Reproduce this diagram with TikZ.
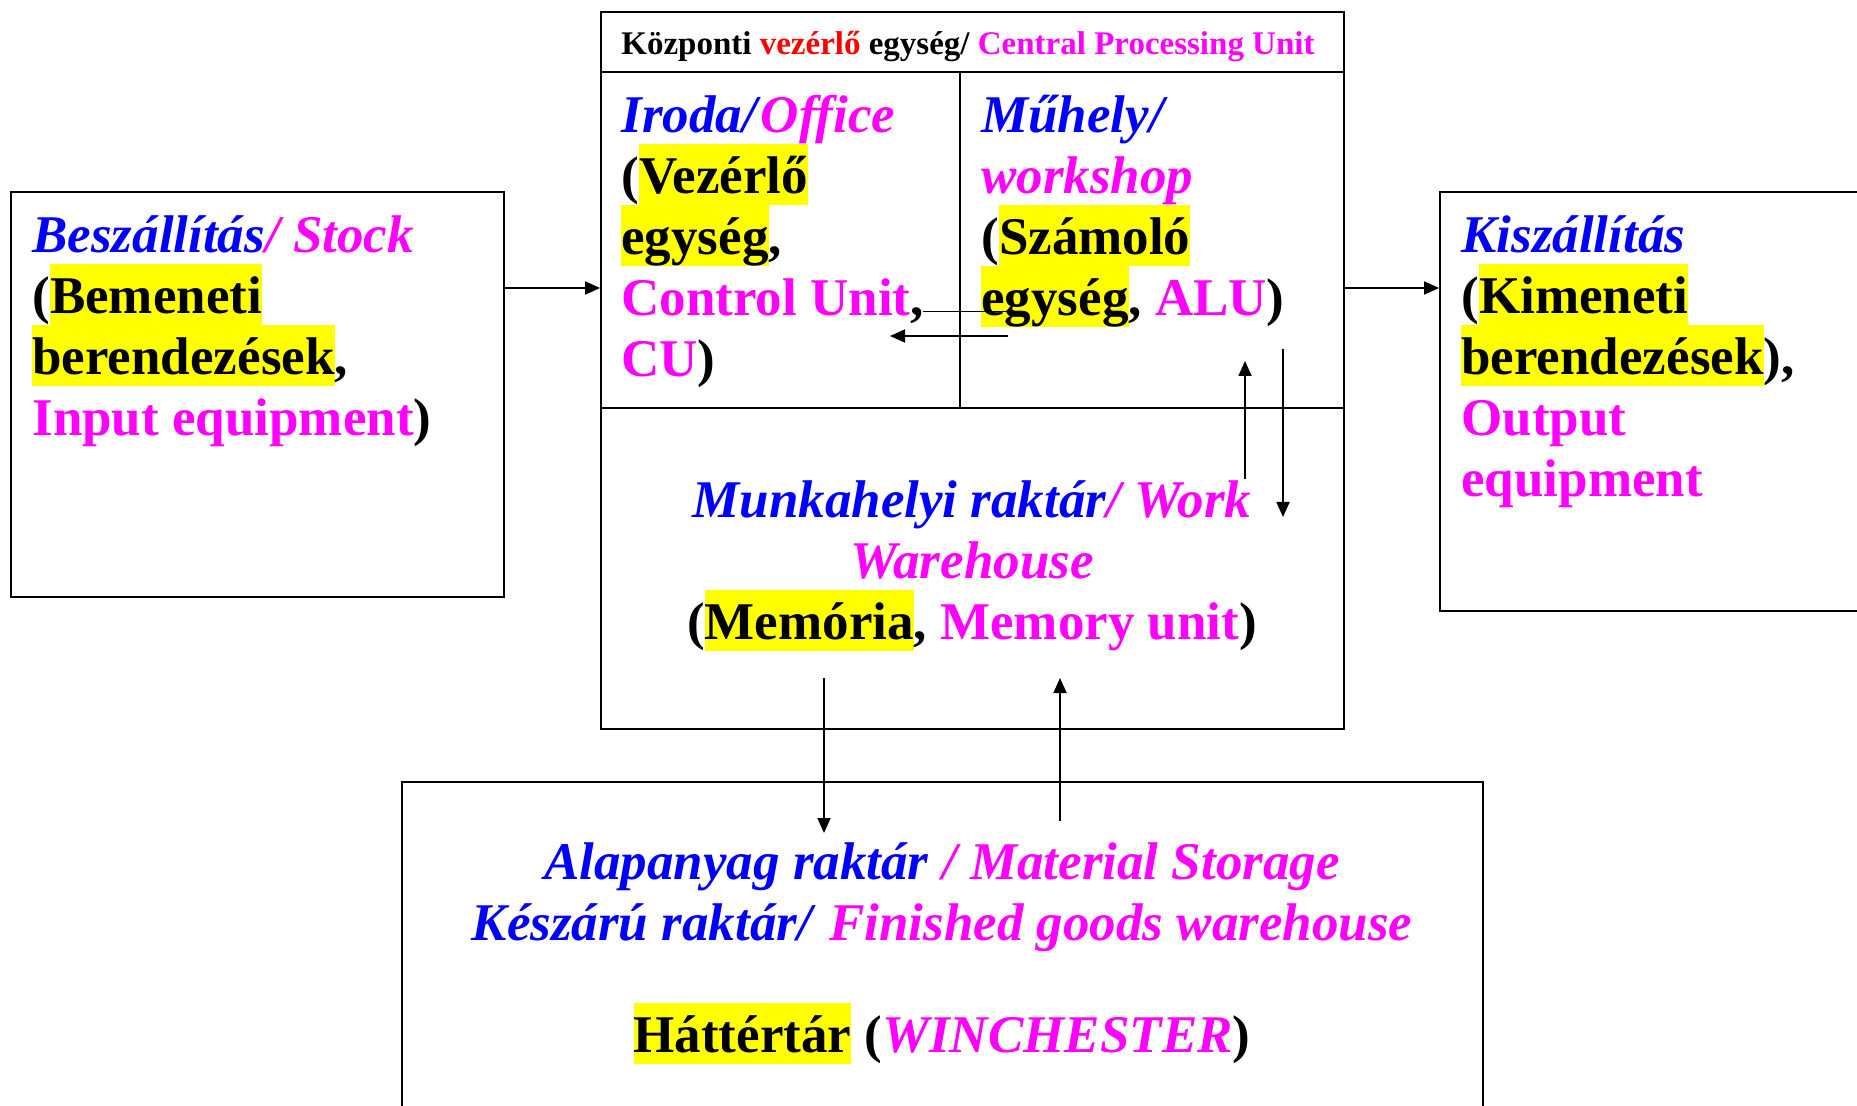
\documentclass[tikz,border=0pt]{standalone}
\usepackage{fontspec}
\setmainfont{Liberation Serif}
\usetikzlibrary{arrows.meta,fit}
\definecolor{hublue}{RGB}{0,0,255}
\definecolor{enmag}{RGB}{255,0,255}
\definecolor{hlyellow}{RGB}{255,255,0}
\definecolor{ctred}{RGB}{255,0,0}
\newcommand{\hstrut}{\rule[-6pt]{0pt}{30.5pt}}
\newcommand{\hl}[1]{{\setlength{\fboxsep}{0pt}\colorbox{hlyellow}{\hstrut#1}}}
\newcommand{\hun}[1]{\textcolor{hublue}{\textit{#1}}}
\newcommand{\engi}[1]{\textcolor{enmag}{\textit{#1}}}
\newcommand{\eng}[1]{\textcolor{enmag}{#1}}
\tikzset{
  box/.style={draw, line width=0.9pt, inner sep=0pt},
  sep/.style={line width=0.9pt},
  arr/.style={line width=0.9pt, -{Triangle[length=7.5pt,width=6.5pt]}},
  txt/.style={inner sep=0pt, font=\fontsize{26.5pt}{30.5pt}\selectfont\bfseries},
  ttl/.style={inner sep=0pt, font=\fontsize{16.5pt}{20pt}\selectfont\bfseries},
}
\begin{document}
\begin{tikzpicture}[x=0.5pt,y=-0.5pt]
        \useasboundingbox (0,0) rectangle (1857,1106);
        \clip (0,0) rectangle (1857,1106);

        % boxes
        \node[box, fit={(11,192) (504,597)}] (stock) {};
        \node[box, fit={(601,12) (1344,729)}] (cpu) {};
        \node[box, fit={(1440,192) (1890,611)}] (output) {};
        \node[box, fit={(402,782) (1483,1140)}] (storage) {};

        % cpu partitions
        \coordinate (titlesep) at (0,72);
        \coordinate (midsep) at (0,408);
        \coordinate (divx) at (960,0);
        \draw[sep] (cpu.west |- titlesep) -- (cpu.east |- titlesep);
        \draw[sep] (cpu.west |- midsep) -- (cpu.east |- midsep);
        \draw[sep] (divx |- titlesep) -- (divx |- midsep);

        % texts
        \node[ttl, anchor=base west] (title) at (621,55)
            {Központi \textcolor{ctred}{vezérlő} egység/ \eng{Central Processing Unit}};

        \node[txt, anchor=north west, align=left] (stocktxt) at (32,203)
            {\hstrut\hun{Beszállítás}\engi{/ Stock}\\
             (\hl{Bemeneti}\\
             \hl{berendezések},\\
             \hstrut\eng{Input equipment})};

        \node[txt, anchor=north west, align=left] (office) at (621,83)
            {\hstrut\hun{Iroda/}\engi{Office}\\
             (\hl{Vezérlő}\\
             \hl{egység},\\
             \hstrut\eng{Control Unit},\\
             \hstrut\eng{CU})};

        \node[txt, anchor=north west, align=left] (workshop) at (981,83)
            {\hstrut\hun{Műhely/}\\
             \hstrut\engi{workshop}\\
             (\hl{Számoló}\\
             \hl{egység}, \eng{ALU})};

        \node[txt, anchor=north west, align=left] (outtxt) at (1461,203)
            {\hstrut\hun{Kiszállítás}\\
             (\hl{Kimeneti}\\
             \hl{berendezések}),\\
             \hstrut\eng{Output}\\
             \hstrut\eng{equipment}};

        \node[txt, anchor=north, align=center] (memory) at (972,468)
            {\hstrut\hun{Munkahelyi raktár}\engi{/ Work}\\
             \hstrut\engi{Warehouse}\\
             (\hl{Memória}, \eng{Memory unit})};

        \node[txt, anchor=north, align=center] (storetxt) at (942,830)
            {\hstrut\hun{Alapanyag raktár }\engi{/ Material Storage}\\
             \hstrut\hun{Készárú raktár/}\engi{ Finished goods warehouse}};

        \node[txt, anchor=north] (backup) at (942,1003)
            {\hl{Háttértár} (\engi{WINCHESTER})};

        % arrows
        \coordinate (feed) at (0,288);
        \draw[arr] (stock.east |- feed) -- (cpu.west |- feed);
        \draw[arr] (cpu.east |- feed) -- (output.west |- feed);

        \coordinate (cu1) at (923,311.5);
        \coordinate (alu1) at (1015,311.5);
        \coordinate (alu2) at (1008,336);
        \coordinate (cu2) at (890,336);
        \draw[sep] (cu1) -- (alu1);
        \draw[arr] (alu2) -- (cu2);

        \coordinate (mem1) at (1245,479);
        \coordinate (alu3) at (1245,361);
        \coordinate (alu4) at (1283,349);
        \coordinate (mem2) at (1283,517);
        \draw[arr] (mem1) -- (alu3);
        \draw[arr] (alu4) -- (mem2);

        \coordinate (mem3) at (824,678);
        \coordinate (st1) at (824,833);
        \coordinate (st2) at (1060,821);
        \coordinate (mem4) at (1060,678);
        \draw[arr] (mem3) -- (st1);
        \draw[arr] (st2) -- (mem4);

    \end{tikzpicture}
\end{document}
